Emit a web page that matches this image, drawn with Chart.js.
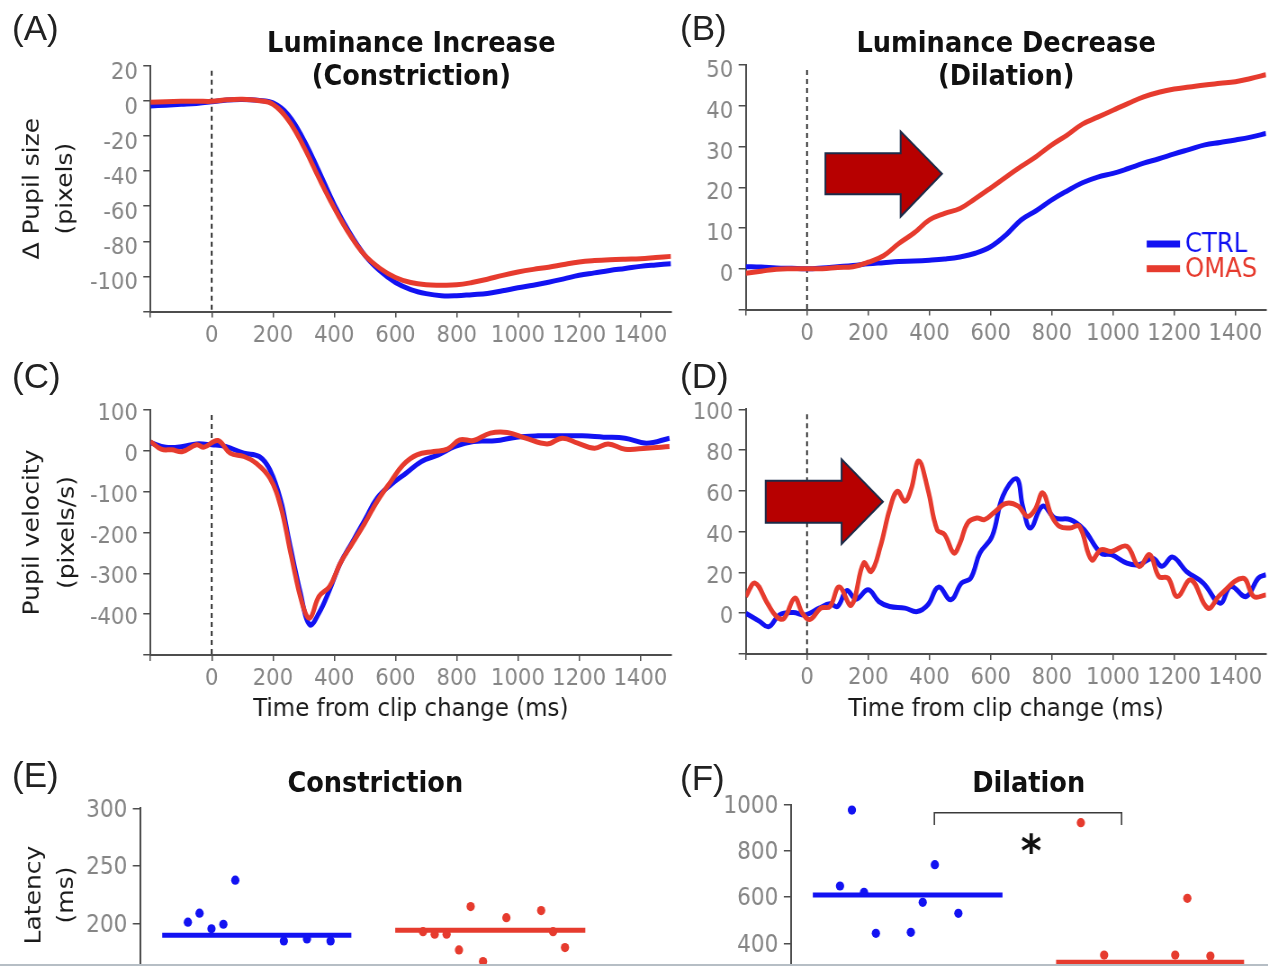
<!DOCTYPE html>
<html>
<head>
<meta charset="utf-8">
<script src="https://cdn.jsdelivr.net/npm/chart.js@4.4.1/dist/chart.umd.min.js"></script>
<style>
  html, body { margin: 0; padding: 0; background: #fff; overflow: hidden; }
  body { width: 1268px; height: 966px; position: relative; }
  /* the whole figure is set in a slightly condensed face */
  #fig { position: absolute; left: 0; top: 0; width: 1409px; height: 1020px;
         transform: scaleX(0.9); transform-origin: 0 0; }
  #fig canvas { position: absolute; }
  .ttl { position: absolute; width: 600px; text-align: center; white-space: nowrap;
         font-family: "DejaVu Sans", sans-serif; font-weight: bold; font-size: 28.5px;
         line-height: 33px; color: #111; }
  .tag { position: absolute; font-family: "Liberation Sans", Arial, sans-serif;
         font-size: 35px; line-height: 35px; color: #222; }
  #edge { position: absolute; left: 0; top: 964px; width: 1268px; height: 2px; background: #b6bec5; }
</style>
</head>
<body>
<div id="fig">
  <div class="ttl" style="left:157px; top:26px">Luminance Increase<br>(Constriction)</div>
  <div class="ttl" style="left:818px; top:26px">Luminance Decrease<br>(Dilation)</div>
  <div class="ttl" style="left:117px; top:766px">Constriction</div>
  <div class="ttl" style="left:843px; top:766px">Dilation</div>
</div>
<div class="tag" style="left:12px; top:10px">(A)</div>
<div class="tag" style="left:680px; top:10px">(B)</div>
<div class="tag" style="left:12px; top:358px">(C)</div>
<div class="tag" style="left:680px; top:358px">(D)</div>
<div class="tag" style="left:12px; top:757px">(E)</div>
<div class="tag" style="left:680px; top:760px">(F)</div>
<div id="edge"></div>

<script>
// ---------- data ----------
var timesAB = [-200, -150, -100, -50, 0, 50, 100, 150, 200, 250, 300, 350, 400, 450, 500, 550, 600,
               650, 700, 750, 800, 850, 900, 950, 1000, 1050, 1100, 1150, 1200, 1250, 1300, 1350, 1400, 1450, 1500];

// pupil size change, luminance increase (pixels)
var ctrlSizeInc = [-2.9, -2.5, -2, -1.5, -0.6, 0.5, 0.8, 0.3, -1.2, -8, -22, -40, -59, -75, -88, -97, -103.5,
                   -107.5, -109.8, -111, -111, -110.4, -109.8, -108.2, -106.5, -105, -103.3, -101.4, -99.4, -98, -96.6, -95.5, -94.3, -93.5, -92.8];
var omasSizeInc = [-0.8, -0.5, -0.3, -0.2, -0.3, 0.6, 0.9, 0.2, -2, -11, -26, -44, -61, -76, -88, -95.5, -100.6,
                   -103.5, -104.8, -105, -104.8, -103.5, -101.6, -99.4, -97.5, -96, -94.8, -93.2, -91.8, -91, -90.5, -90.2, -90, -89.3, -88.6];

// pupil size change, luminance decrease (pixels)
var ctrlSizeDec = [0.5, 0.4, 0.2, 0.1, 0, 0.2, 0.5, 0.8, 1.2, 1.5, 1.8, 1.9, 2.1, 2.4, 2.9, 3.8, 5.4,
                   8.3, 12, 14.3, 16.9, 19.1, 21.1, 22.5, 23.4, 24.6, 25.9, 27, 28.2, 29.3, 30.4, 31, 31.6, 32.3, 33.2];
var omasSizeDec = [-1.1, -0.6, -0.1, 0, 0, 0, 0.3, 0.5, 1.6, 3.2, 6.2, 8.8, 12, 13.6, 14.8, 17.2, 19.8,
                   22.5, 25.1, 27.6, 30.4, 32.8, 35.5, 37.2, 38.9, 40.6, 42.2, 43.3, 44.1, 44.6, 45.1, 45.5, 45.9, 46.7, 47.6];

// pupil velocity, luminance increase (pixels/s)
var ctrlVelIncT = [-200, -150, -95, -50, 0, 45, 105, 155, 190, 225, 250, 290, 320, 350, 385, 420, 460, 500, 540, 585,
                   635, 685, 740, 795, 855, 925, 995, 1065, 1135, 1210, 1280, 1350, 1420, 1495];
var ctrlVelInc = [20, 9, 10.6, 17, 14.7, 10.6, -5.7, -13.9, -46.5, -120, -209.8, -348.6, -426, -397.6, -340.4, -275, -222, -169, -116, -83,
                  -54.7, -26, -9.8, 10.6, 22.9, 24.5, 33.5, 36.7, 36.7, 36.7, 33.5, 31, 18.8, 31];
var omasVelIncT = [-200, -165, -130, -95, -50, -25, 20, 60, 105, 145, 190, 225, 260, 295, 320, 350, 385, 420, 460, 500,
                   540, 585, 625, 670, 725, 770, 810, 855, 910, 965, 1025, 1095, 1145, 1195, 1250, 1295, 1350, 1420, 1495];
var omasVelInc = [22.9, 4.1, 2.4, -1.6, 14.7, 9, 25.3, -5.7, -13.9, -30.2, -67, -136, -258.8, -373, -409.8, -356.7, -332, -275, -226, -177,
                  -124, -75, -34.3, -9.8, -1.6, 4.1, 27, 25.3, 43.3, 44.9, 31, 17, 31, 18.8, 6.5, 17, 4.1, 6.5, 10.6];

// pupil velocity, luminance decrease (pixels/s)
var ctrlVelDecT = [-200, -155, -125, -90, -45, -5, 40, 75, 100, 130, 160, 200, 235, 270, 320, 360, 395, 430, 470, 505,
                   535, 565, 605, 640, 685, 705, 730, 770, 810, 860, 905, 960, 995, 1045, 1085, 1130, 1160, 1195, 1240, 1295,
                   1350, 1385, 1435, 1475, 1500];
var ctrlVelDec = [0, -4, -6.6, -0.8, 0.3, -0.8, 2.5, 4.6, 3.3, 11.1, 6.9, 11.5, 5.7, 3.3, 2.5, 0.8, 4.1, 12.8, 6.6, 14.8,
                  17.2, 29.5, 37.7, 57.4, 65.9, 52.5, 41.8, 52.5, 46.7, 45.9, 41, 29.5, 28.7, 24.6, 23.8, 27, 23, 27.5, 20.5, 14.8,
                  4.9, 13.1, 8.2, 17.2, 18.9];
var omasVelDecT = [-200, -170, -130, -100, -75, -40, -15, 10, 45, 75, 105, 145, 185, 210, 240, 270, 295, 320, 340, 365,
                   395, 425, 450, 480, 500, 525, 555, 580, 610, 650, 690, 720, 745, 770, 800, 825, 860, 890, 930, 960,
                   995, 1045, 1085, 1120, 1150, 1180, 1210, 1255, 1310, 1350, 1425, 1460, 1500];
var omasVelDec = [8.2, 14.8, 5, -1.6, -2.5, 7.4, 0, -3, 2.5, 3.3, 12.8, 4, 24.6, 20.5, 32.8, 50.8, 59.8, 54.9, 60.7, 74.6,
                  60.7, 41, 38.5, 29.5, 34.4, 44.3, 46.7, 45.9, 49.2, 53.8, 52.5, 47.5, 50.8, 59, 47.5, 42.6, 41.8, 42.6, 26.2, 31.1,
                  30.3, 32.8, 23, 28.7, 18, 17.2, 8.2, 16.4, 2.5, 9, 17.2, 8.2, 9];

// per-subject latencies (ms), x = jittered group position
var ctrlLatConX = [0.705, 0.755, 0.806, 0.857, 0.908, 1.116, 1.215, 1.316];
var ctrlLatCon  = [201.5, 209.3, 195.7, 199.7, 237.8, 185.3, 187, 185.3];
var omasLatConX = [1.712, 1.762, 1.813, 1.866, 1.916, 1.969, 2.069, 2.218, 2.269, 2.32];
var omasLatCon  = [193.3, 191.1, 191.1, 177.5, 215, 167.4, 205.4, 211.5, 193.3, 179.5];
var meanLatCon  = [190.2, 194.5];
var meanSpanCon = [[0.595, 1.405], [1.593, 2.407]];

var ctrlLatDilX = [0.751, 0.702, 0.801, 0.85, 0.994, 1.043, 1.093, 1.19];
var ctrlLatDil  = [978, 648.6, 621.3, 443.4, 447.7, 577.9, 741, 530.2];
var omasLatDilX = [1.695, 1.791, 2.084, 2.134, 2.229];
var omasLatDil  = [923.2, 349, 349, 595.2, 344.9];
var meanLatDil  = [609.6, 317.6];
var meanSpanDil = [[0.59, 1.372], [1.593, 2.368]];

// tick values
var timeTicks    = [-200, 0, 200, 400, 600, 800, 1000, 1200, 1400];
var sizeIncTicks = [-120, -100, -80, -60, -40, -20, 0, 20];
var sizeDecTicks = [-10, 0, 10, 20, 30, 40, 50];
var velIncTicks  = [-500, -400, -300, -200, -100, 0, 100];
var velDecTicks  = [-20, 0, 20, 40, 60, 80, 100];
var latConTicks  = [150, 200, 250, 300];
var latDilTicks  = [200, 400, 600, 800, 1000];

// ---------- styling ----------
var K = 0.9;                       // horizontal squeeze applied to #fig
var FONT = '"DejaVu Sans", sans-serif';
var BLUE = '#1212f2', RED = '#e63b2e';
var TICK = '#858585', AXIS = '#4d4d4d', INK = '#1a1a1a';

// canvas box and plot area, in page pixels
var boxes = {
    A: { canvas: { left: 0,   top: 40,  width: 680, height: 310 }, area: { l: 150.5, t: 65.7,  r: 671,    b: 311.5 } },
    B: { canvas: { left: 680, top: 40,  width: 588, height: 310 }, area: { l: 745.8, t: 65,    r: 1266,   b: 309.5 } },
    C: { canvas: { left: 0,   top: 385, width: 680, height: 350 }, area: { l: 150.5, t: 410,   r: 671,    b: 655 } },
    D: { canvas: { left: 680, top: 385, width: 588, height: 350 }, area: { l: 745.8, t: 409.3, r: 1266,   b: 654 } },
    E: { canvas: { left: 0,   top: 765, width: 680, height: 250 }, area: { l: 140,   t: 808.3, r: 607,    b: 981.7 } },
    F: { canvas: { left: 680, top: 765, width: 588, height: 250 }, area: { l: 791,   t: 805,   r: 1266.6, b: 989.4 } }
};

function frame(box) {
    var c = box.canvas, a = box.area;
    var L = Math.round(c.left / K), W = Math.round(c.width / K);
    return {
        left: L, top: c.top, width: W, height: c.height,
        yWidth: a.l / K - L,
        padRight: L + W - a.r / K,
        padTop: a.t - c.top,
        xHeight: c.top + c.height - a.b
    };
}

function makeCanvas(f) {
    var el = document.createElement('canvas');
    el.width = f.width;
    el.height = f.height;
    el.style.left = f.left + 'px';
    el.style.top = f.top + 'px';
    document.getElementById('fig').appendChild(el);
    return el;
}

function pts(xs, ys) {
    return xs.map(function (x, i) { return { x: x, y: ys[i] }; });
}

function fixedTicks(values) {
    return function (scale) {
        scale.ticks = values.map(function (v) { return { value: v }; });
    };
}

function yScale(f, o) {
    var lowest = o.ticks[0];
    return {
        type: 'linear', min: o.min, max: o.max,
        afterBuildTicks: fixedTicks(o.ticks),
        afterFit: function (s) { s.width = f.yWidth; },
        border: { color: AXIS, width: 2 },
        grid: { drawOnChartArea: false, color: AXIS, lineWidth: 1.5, tickLength: 8 },
        ticks: {
            color: TICK, padding: 6, labelOffset: o.shift,
            font: { family: FONT, size: o.fontSize || 23.5 },
            callback: function (v) { return v === lowest ? '' : String(v); }
        },
        title: o.title ? {
            display: true, text: o.title, color: INK,
            font: { family: FONT, size: 25, lineHeight: o.titleGap },
            padding: { top: o.titlePad, bottom: 0 }
        } : { display: false }
    };
}

function xTime(f, withTitle) {
    return {
        type: 'linear', min: -200, max: 1500,
        afterBuildTicks: fixedTicks(timeTicks),
        afterFit: function (s) { s.height = f.xHeight; },
        border: { color: AXIS, width: 2 },
        grid: { drawOnChartArea: false, color: AXIS, lineWidth: 1.5, tickLength: 6 },
        ticks: {
            color: TICK, padding: 4, autoSkip: false, maxRotation: 0,
            font: { family: FONT, size: 23.5 },
            callback: function (v) { return v < 0 ? '' : String(v); }
        },
        title: withTitle ? {
            display: true, text: 'Time from clip change (ms)', color: INK,
            font: { family: FONT, size: 25.5, lineHeight: 1.2 },
            padding: { top: 0, bottom: 10.5 }
        } : { display: false }
    };
}

// dashed onset line, arrows, key and significance bracket
var decor = {
    id: 'decor',
    beforeDatasetsDraw: function (chart, args, opts) {
        if (!opts.zeroLine) return;
        var ctx = chart.ctx, ca = chart.chartArea;
        var x = chart.scales.x.getPixelForValue(0);
        ctx.save();
        ctx.strokeStyle = '#111';
        ctx.lineWidth = 1.7;
        ctx.setLineDash([5, 4]);
        ctx.beginPath();
        ctx.moveTo(x, ca.top + 5);
        ctx.lineTo(x, ca.bottom);
        ctx.stroke();
        ctx.restore();
    },
    afterDatasetsDraw: function (chart, args, opts) {
        var ctx = chart.ctx, ca = chart.chartArea;
        var sx = chart.scales.x, sy = chart.scales.y;
        var X = function (v) { return sx.getPixelForValue(v); };
        var Y = function (v) { return sy.getPixelForValue(v); };
        ctx.save();
        if (opts.arrow) {
            var a = opts.arrow, mid = (a.bodyTop + a.bodyBottom) / 2;
            ctx.beginPath();
            ctx.moveTo(X(a.x0), Y(a.bodyTop));
            ctx.lineTo(X(a.xNeck), Y(a.bodyTop));
            ctx.lineTo(X(a.xNeck), Y(a.headTop));
            ctx.lineTo(X(a.xTip), Y(mid));
            ctx.lineTo(X(a.xNeck), Y(a.headBottom));
            ctx.lineTo(X(a.xNeck), Y(a.bodyBottom));
            ctx.lineTo(X(a.x0), Y(a.bodyBottom));
            ctx.closePath();
            ctx.fillStyle = '#b70000';
            ctx.fill();
            ctx.lineWidth = 2;
            ctx.strokeStyle = '#1c2b48';
            ctx.stroke();
        }
        if (opts.key) {
            ctx.font = '27px ' + FONT;
            ctx.textBaseline = 'middle';
            ctx.textAlign = 'left';
            chart.data.datasets.forEach(function (ds, i) {
                ctx.fillStyle = ds.borderColor;
                ctx.fillRect(ca.right - 119.3 / K, ca.bottom - 69 + i * 24.7, 33.3 / K, 7);
                ctx.fillText(ds.label, ca.right - 81 / K, ca.bottom - 64.5 + i * 25);
            });
        }
        if (opts.sig) {
            var s = opts.sig;
            ctx.strokeStyle = '#3a3a3a';
            ctx.lineWidth = 1.6;
            ctx.beginPath();
            ctx.moveTo(X(s.from), Y(s.foot));
            ctx.lineTo(X(s.from), Y(s.top));
            ctx.lineTo(X(s.to), Y(s.top));
            ctx.lineTo(X(s.to), Y(s.foot));
            ctx.stroke();
            ctx.font = 'bold 44px ' + FONT;
            ctx.textAlign = 'center';
            ctx.textBaseline = 'alphabetic';
            ctx.fillStyle = '#111';
            ctx.fillText('*', X(s.starX), Y(s.starY));
        }
        ctx.restore();
    }
};

function traceChart(f, datasets, x, y, decorOpts) {
    return new Chart(makeCanvas(f), {
        type: 'line',
        data: { datasets: datasets },
        options: {
            responsive: false, animation: false, devicePixelRatio: 1,
            layout: { padding: { left: 0, top: f.padTop, right: f.padRight, bottom: 0 } },
            elements: { line: { borderWidth: 5, tension: 0.4, fill: false }, point: { radius: 0 } },
            plugins: { legend: { display: false }, tooltip: { enabled: false }, decor: decorOpts },
            scales: { x: x, y: y }
        },
        plugins: [decor]
    });
}

function trace(label, data, color, order) {
    return { label: label, data: data, borderColor: color, backgroundColor: color, order: order };
}

function latencyChart(f, xMax, y, groups, decorOpts) {
    var datasets = [];
    groups.forEach(function (g) {
        datasets.push({
            label: g.label, data: pts(g.xs, g.ys), backgroundColor: g.color, borderWidth: 0,
            pointRadius: 4.6, order: 0
        });
        datasets.push({
            label: g.label + ' mean', data: pts(g.span, [g.mean, g.mean]), borderColor: g.color,
            borderWidth: 5, showLine: true, pointRadius: 0, order: 1
        });
    });
    return new Chart(makeCanvas(f), {
        type: 'scatter',
        data: { datasets: datasets },
        options: {
            responsive: false, animation: false, devicePixelRatio: 1,
            layout: { padding: { left: 0, top: f.padTop, right: f.padRight, bottom: f.xHeight } },
            plugins: { legend: { display: false }, tooltip: { enabled: false }, decor: decorOpts || {} },
            scales: { x: { type: 'linear', display: false, min: 0.5, max: xMax }, y: y }
        },
        plugins: [decor]
    });
}

// ---------- panels ----------
var fA = frame(boxes.A), fB = frame(boxes.B), fC = frame(boxes.C);
var fD = frame(boxes.D), fE = frame(boxes.E), fF = frame(boxes.F);

traceChart(fA,
    [trace('CTRL', pts(timesAB, ctrlSizeInc), BLUE, 1), trace('OMAS', pts(timesAB, omasSizeInc), RED, 0)],
    xTime(fA, false),
    yScale(fA, { min: -120, max: 20, ticks: sizeIncTicks, shift: 7, title: ['\u0394 Pupil size', '(pixels)'], titleGap: 1.47, titlePad: 18.4 }),
    { zeroLine: true });

traceChart(fB,
    [trace('CTRL', pts(timesAB, ctrlSizeDec), BLUE, 1), trace('OMAS', pts(timesAB, omasSizeDec), RED, 0)],
    xTime(fB, false),
    yScale(fB, { min: -10, max: 50, ticks: sizeDecTicks, shift: 6 }),
    { zeroLine: true, key: true,
      arrow: { x0: 60, xNeck: 306, xTip: 441, bodyTop: 28.35, bodyBottom: 18.3, headTop: 33.7, headBottom: 12.8 } });

traceChart(fC,
    [trace('CTRL', pts(ctrlVelIncT, ctrlVelInc), BLUE, 1), trace('OMAS', pts(omasVelIncT, omasVelInc), RED, 0)],
    xTime(fC, true),
    yScale(fC, { min: -500, max: 100, ticks: velIncTicks, shift: 4, title: ['Pupil velocity', '(pixels/s)'], titleGap: 1.58, titlePad: 16.4 }),
    { zeroLine: true });

traceChart(fD,
    [trace('CTRL', pts(ctrlVelDecT, ctrlVelDec), BLUE, 1), trace('OMAS', pts(omasVelDecT, omasVelDec), RED, 0)],
    xTime(fD, true),
    yScale(fD, { min: -20, max: 100, ticks: velDecTicks, shift: 4 }),
    { zeroLine: true,
      arrow: { x0: -135, xNeck: 113, xTip: 248, bodyTop: 64.9, bodyBottom: 44.4, headTop: 75.5, headBottom: 34 } });

latencyChart(fE, 2.5,
    yScale(fE, { min: 150, max: 300, ticks: latConTicks, shift: 2, fontSize: 24, title: ['Latency', '(ms)'], titleGap: 1.42, titlePad: 21.1 }),
    [{ label: 'CTRL', xs: ctrlLatConX, ys: ctrlLatCon, mean: meanLatCon[0], span: meanSpanCon[0], color: BLUE },
     { label: 'OMAS', xs: omasLatConX, ys: omasLatCon, mean: meanLatCon[1], span: meanSpanCon[1], color: RED }]);

latencyChart(fF, 2.45,
    yScale(fF, { min: 200, max: 1000, ticks: latDilTicks, shift: 2, fontSize: 24 }),
    [{ label: 'CTRL', xs: ctrlLatDilX, ys: ctrlLatDil, mean: meanLatDil[0], span: meanSpanDil[0], color: BLUE },
     { label: 'OMAS', xs: omasLatDilX, ys: omasLatDil, mean: meanLatDil[1], span: meanSpanDil[1], color: RED }],
    { sig: { from: 1.091, to: 1.863, top: 966.6, foot: 913, starX: 1.49, starY: 735 } });
</script>
</body>
</html>
